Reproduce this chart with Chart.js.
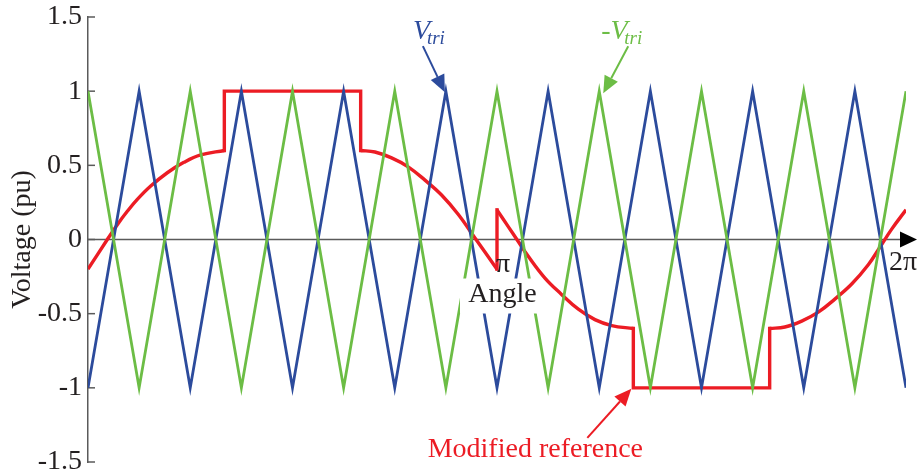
<!DOCTYPE html>
<html>
<head>
<meta charset="utf-8">
<script src="https://cdn.jsdelivr.net/npm/chart.js@4"></script>
<style>
  html, body { margin: 0; padding: 0; background: #fff; }
  #wrap { width: 918px; height: 473px; }
</style>
</head>
<body>
<div id="wrap"><canvas id="c"></canvas></div>
<script>
// Carrier vertices, one every 22.5 degrees (8 carrier periods per cycle)
const carrierAngles = [0, 22.5, 45, 67.5, 90, 112.5, 135, 157.5, 180, 202.5, 225, 247.5, 270, 292.5, 315, 337.5, 360];
const vTri    = [-1, 1, -1, 1, -1, 1, -1, 1, -1, 1, -1, 1, -1, 1, -1, 1, -1];
const negVTri = [1, -1, 1, -1, 1, -1, 1, -1, 1, -1, 1, -1, 1, -1, 1, -1, 1];

// Modified reference, curved stretches (angle in degrees, value in pu)
const curveAAngles = [0, 8.5, 12.9, 17.3, 21.7, 27.6, 34.9, 42.2, 49.6, 60];
const curveAValues = [-0.2, 0, 0.10, 0.19, 0.27, 0.36, 0.45, 0.52, 0.57, 0.60];
const curveBAngles = [120, 126.3, 133.6, 140.9, 148.3, 155.6, 162.9, 170.3, 180];
const curveBValues = [0.60, 0.59, 0.55, 0.49, 0.40, 0.30, 0.17, 0.01, -0.2];
const curveCAngles = [180, 184.8, 189.2, 193.6, 201.1, 208.4, 215.8, 223.1, 230.5, 240];
const curveCValues = [0.2, 0.09, -0.01, -0.11, -0.26, -0.37, -0.47, -0.54, -0.58, -0.60];
const curveDAngles = [300, 306.7, 314.1, 321.4, 328.8, 336.1, 343.4, 348.6, 353.7, 360];
const curveDValues = [-0.60, -0.59, -0.55, -0.49, -0.40, -0.30, -0.17, -0.05, 0.07, 0.2];

// Modified reference, jumps and flat tops
const stepAAngles = [60, 60, 120, 120];
const stepAValues = [0.6, 1, 1, 0.6];
const stepBAngles = [180, 180];
const stepBValues = [-0.2, 0.2];
const stepCAngles = [240, 240, 300, 300];
const stepCValues = [-0.6, -1, -1, -0.6];

const yTicks = [1.5, 1, 0.5, 0, -0.5, -1, -1.5];

const BLUE = '#2c4b9c';
const GREEN = '#6cbd45';
const RED = '#ec1c24';
const AXIS = '#5a5a5a';
const INK = '#231f20';
const SERIF = '"Liberation Serif", "Times New Roman", serif';

const pts = (xs, ys) => xs.map((x, i) => ({ x, y: ys[i] }));
const line = (data, color, width, extra) => Object.assign({
  data, borderColor: color, borderWidth: width, fill: false,
  pointRadius: 0, pointHoverRadius: 0, borderJoinStyle: 'miter', tension: 0
}, extra || {});

const curve = { tension: 0.4 };
const step = { borderCapStyle: 'square' };

function arrow(ctx, x1, y1, x2, y2, color) {
  const len = 17, half = 7.5;
  const a = Math.atan2(y2 - y1, x2 - x1);
  const bx = x2 - len * Math.cos(a), by = y2 - len * Math.sin(a);
  ctx.strokeStyle = color; ctx.fillStyle = color; ctx.lineWidth = 2;
  ctx.beginPath(); ctx.moveTo(x1, y1); ctx.lineTo(bx, by); ctx.stroke();
  ctx.beginPath();
  ctx.moveTo(x2, y2);
  ctx.lineTo(bx + half * Math.sin(a), by - half * Math.cos(a));
  ctx.lineTo(bx - half * Math.sin(a), by + half * Math.cos(a));
  ctx.closePath(); ctx.fill();
}

const decorations = {
  id: 'decorations',
  beforeDatasetsDraw(chart) {
    const { ctx, chartArea, scales: { x, y } } = chart;
    const y0 = y.getPixelForValue(0);
    const xEnd = x.getPixelForValue(360);
    ctx.save();
    // horizontal axis with arrow head
    ctx.strokeStyle = AXIS; ctx.lineWidth = 1.5;
    ctx.beginPath(); ctx.moveTo(chartArea.left, y0); ctx.lineTo(xEnd - 5, y0); ctx.stroke();
    ctx.fillStyle = '#000';
    ctx.beginPath();
    ctx.moveTo(xEnd - 6, y0 - 8); ctx.lineTo(xEnd + 11, y0); ctx.lineTo(xEnd - 6, y0 + 8);
    ctx.closePath(); ctx.fill();
    // inward tick marks on the vertical axis
    ctx.strokeStyle = AXIS; ctx.lineWidth = 1.5;
    yTicks.forEach(v => {
      const py = y.getPixelForValue(v);
      ctx.beginPath(); ctx.moveTo(chartArea.left, py); ctx.lineTo(chartArea.left + 7, py); ctx.stroke();
    });
    ctx.restore();
  },
  afterDatasetsDraw(chart) {
    const { ctx, scales: { x, y } } = chart;
    const y0 = y.getPixelForValue(0);
    const xPi = x.getPixelForValue(180);
    const xEnd = x.getPixelForValue(360);
    ctx.save();
    ctx.textBaseline = 'alphabetic';

    // axis labels
    ctx.fillStyle = '#fff';
    ctx.fillRect(xPi - 37, y0 + 39, 82, 35);
    ctx.fillStyle = INK;
    ctx.font = '28px ' + SERIF;
    ctx.textAlign = 'center';
    ctx.fillText('Angle', xPi + 5.5, y0 + 62);
    ctx.textAlign = 'left';
    ctx.fillText('\u03c0', xPi - 1, y0 + 32);
    ctx.fillText('2\u03c0', xEnd - 17, y0 + 30);

    // V_tri
    const bx = x.getPixelForValue(157.5), by = y.getPixelForValue(1);
    ctx.fillStyle = BLUE;
    ctx.font = 'italic 28px ' + SERIF;
    ctx.fillText('V', bx - 33, by - 52);
    ctx.font = 'italic 19px ' + SERIF;
    ctx.fillText('tri', bx - 19, by - 47);
    arrow(ctx, bx - 23, by - 45, bx - 1, by + 1, BLUE);

    // -V_tri
    const gx = x.getPixelForValue(225), gy = y.getPixelForValue(1);
    ctx.fillStyle = GREEN;
    ctx.font = 'italic 28px ' + SERIF;
    ctx.fillText('-V', gx + 2, gy - 52);
    ctx.font = 'italic 19px ' + SERIF;
    ctx.fillText('tri', gx + 25, gy - 47);
    arrow(ctx, gx + 29, gy - 45, gx + 4, gy + 2, GREEN);

    // Modified reference
    const rx = x.getPixelForValue(240), ry = y.getPixelForValue(-1);
    ctx.fillStyle = RED;
    ctx.font = '28px ' + SERIF;
    ctx.textAlign = 'center';
    ctx.fillText('Modified reference', rx - 98, ry + 69);
    arrow(ctx, rx - 46, ry + 50, rx - 2, ry + 1, RED);
    ctx.restore();
  }
};

new Chart(document.getElementById('c'), {
  type: 'line',
  data: {
    datasets: [
      line(pts(carrierAngles, negVTri), GREEN, 2.8),
      line(pts(carrierAngles, vTri), BLUE, 2.8),
      line(pts(curveAAngles, curveAValues), RED, 3.4, curve),
      line(pts(stepAAngles, stepAValues), RED, 3.4, step),
      line(pts(curveBAngles, curveBValues), RED, 3.4, curve),
      line(pts(stepBAngles, stepBValues), RED, 3.4, step),
      line(pts(curveCAngles, curveCValues), RED, 3.4, curve),
      line(pts(stepCAngles, stepCValues), RED, 3.4, step),
      line(pts(curveDAngles, curveDValues), RED, 3.4, curve)
    ]
  },
  options: {
    responsive: true,
    maintainAspectRatio: false,
    animation: false,
    events: [],
    layout: { padding: { left: 0, top: 17, right: 12, bottom: 11 } },
    plugins: { legend: { display: false }, tooltip: { enabled: false } },
    scales: {
      x: { type: 'linear', min: 0, max: 360, display: false },
      y: {
        type: 'linear', min: -1.5, max: 1.5,
        afterBuildTicks: s => { s.ticks = yTicks.map(v => ({ value: v })); },
        afterFit: s => { s.width = 88; s.paddingTop = 0; s.paddingBottom = 0; },
        grid: { display: false, drawTicks: false },
        border: { display: true, color: AXIS, width: 1.5 },
        ticks: {
          font: { family: SERIF, size: 28 }, color: INK, padding: 6, autoSkip: false,
          callback: v => String(v)
        },
        title: { display: true, text: 'Voltage (pu)', color: INK, font: { family: SERIF, size: 28 }, padding: { top: 6, bottom: 0 } }
      }
    }
  },
  plugins: [decorations]
});
</script>
</body>
</html>
